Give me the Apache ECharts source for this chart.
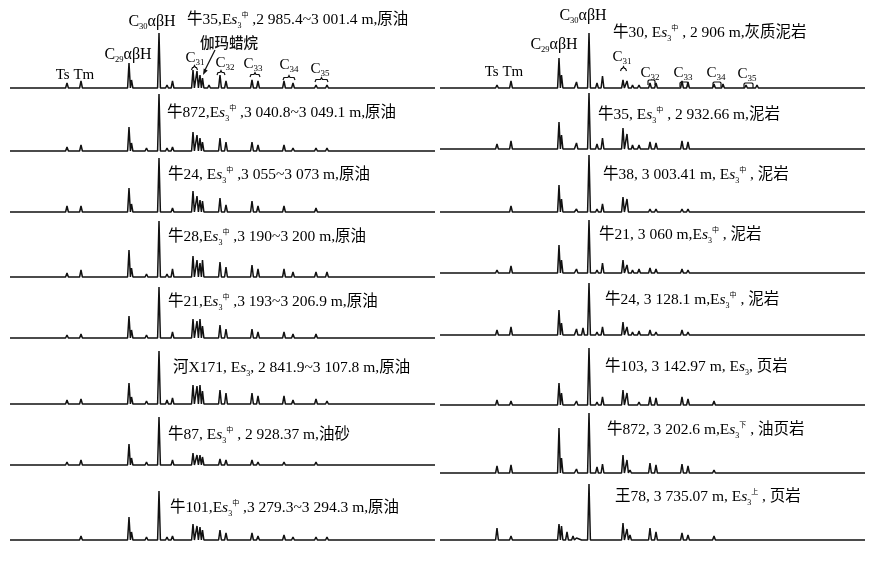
<!DOCTYPE html>
<html>
<head>
<meta charset="utf-8">
<script src="https://cdn.jsdelivr.net/npm/echarts@6/dist/echarts.min.js"></script>
<style>
    html, body { margin: 0; background: #fff; }
    #chart { width: 881px; height: 563px; }
</style>
</head>
<body>
<div id="chart"></div>
<script>
// retention positions of the peaks (same scale for every trace)
var peakNames = ['p35','Ts','Tm','p99','C29','C29b','p128','p133','p137','p143','C30','p157','p163',
    'C31S','C31R','Ga1','Ga2','p200','C32S','C32R','p230','C33S','C33R','p262','C34S','C34R','p295',
    'C35S','C35R','p345','p375'];
var peakPos = [35, 57, 71, 99, 119, 121.5, 127, 133, 136.5, 143, 149, 157, 162.5,
    183, 187, 190, 192.5, 199, 210, 216, 230, 242, 248, 262, 274, 283, 295, 306, 317, 345, 375];

// left column: crude oils / oil sand
var n35Oil   = [2,5,7,1,25,8,2,0,2,0,55,3,7,18,17,13,10,3,13,7,1,8,7,1,7,5,1,3,3,1,1];
var n872Oil  = [1,4,6,1,24,8,2,0,3,0,57,3,4,19,16,13,9,2,13,9,1,9,6,1,6,3,1,3,3,1,1];
var n24Oil   = [1,6,6,1,24,8,2,0,2,0,54,2,4,21,16,12,11,2,14,7,1,11,6,1,6,2,1,4,2,1,1];
var n28Oil   = [1,4,7,1,27,9,2,0,3,0,56,3,8,21,17,14,17,2,15,10,1,12,8,1,8,5,1,5,5,1,1];
var n21Oil   = [1,3,4,1,22,8,2,0,3,0,51,2,6,19,17,19,12,2,13,9,1,9,6,1,6,4,1,4,2,1,1];
var hx171Oil = [2,4,5,1,21,7,2,0,3,0,53,4,6,19,18,19,13,2,14,11,1,11,8,1,8,4,1,5,3,1,1];
var n87Sand  = [1,3,5,1,21,7,2,0,3,0,48,2,5,12,10,10,8,2,6,5,1,5,3,1,3,2,1,3,2,1,1];
var n101Oil  = [1,2,4,1,23,8,2,0,3,0,49,3,4,16,14,13,10,2,10,7,1,7,4,1,5,3,1,3,3,1,1];

// right column: source rocks
var n30Rock  = [1,3,7,1,30,13,2,1,6,1,55,5,12,8,7,2,3,3,5,5,2,7,6,1,4,4,1,3,3,1,1];
var n35Rock  = [1,5,8,1,27,14,2,1,6,2,56,5,11,21,15,2,4,4,7,6,2,8,7,1,2,2,1,1,1,1,1];
var n38Rock  = [1,2,6,1,27,13,2,1,3,1,57,3,8,15,13,2,2,2,3,3,1,3,3,1,2,1,1,1,1,1,1];
var n21Rock  = [1,3,7,1,28,13,2,1,4,1,53,3,10,13,8,2,3,4,5,4,1,4,3,1,2,1,1,1,1,1,1];
var n24Rock  = [1,5,8,1,25,12,2,1,6,7,52,3,8,13,8,2,3,4,5,3,1,5,3,1,2,2,1,1,1,1,1];
var n103Rock = [1,5,4,1,22,12,2,1,4,1,57,3,8,15,12,2,2,3,8,7,1,8,6,1,4,2,1,2,1,1,1];
var n872Rock = [2,7,8,2,45,15,2,1,4,1,60,6,9,18,13,3,2,2,10,8,1,9,7,1,3,2,1,2,1,1,1];
var w78Rock  = [1,12,4,2,16,14,8,4,2,1,56,2,2,17,11,5,2,2,12,8,1,7,5,1,4,2,1,2,1,1,1];

var leftTraces = [n35Oil, n872Oil, n24Oil, n28Oil, n21Oil, hx171Oil, n87Sand, n101Oil];
var rightTraces = [n30Rock, n35Rock, n38Rock, n21Rock, n24Rock, n103Rock, n872Rock, w78Rock];

// sample labels: [before "s", superscript, after]
var leftLabels = [
    ['牛35,E', '中', ' ,2 985.4~3 001.4 m,原油'],
    ['牛872,E', '中', ' ,3 040.8~3 049.1 m,原油'],
    ['牛24, E', '中', ' ,3 055~3 073 m,原油'],
    ['牛28,E', '中', ' ,3 190~3 200 m,原油'],
    ['牛21,E', '中', ' ,3 193~3 206.9 m,原油'],
    ['河X171, E', '', ', 2 841.9~3 107.8 m,原油'],
    ['牛87, E', '中', ' , 2 928.37 m,油砂'],
    ['牛101,E', '中', ' ,3 279.3~3 294.3 m,原油']
];
var rightLabels = [
    ['牛30, E', '中', ' , 2 906 m,灰质泥岩'],
    ['牛35, E', '中', ' , 2 932.66 m,泥岩'],
    ['牛38, 3 003.41 m, E', '中', ' , 泥岩'],
    ['牛21, 3 060 m,E', '中', ' , 泥岩'],
    ['牛24, 3 128.1 m,E', '中', ' , 泥岩'],
    ['牛103, 3 142.97 m, E', '', ', 页岩'],
    ['牛872, 3 202.6 m,E', '下', ' , 油页岩'],
    ['王78, 3 735.07 m, E', '上', ' , 页岩']
];

// layout
var FONT = "'Liberation Serif', 'Noto Sans CJK SC', serif";
var INK = '#111';
var W = 425;
var H = 62;
var leftX = 10, rightX = 440;
var leftBase = [88, 151, 212, 277, 338, 404, 465, 540];
var rightBase = [88, 149, 212, 273, 335, 405, 473, 540];
var leftLabelPos = [[187, 20], [167, 113], [168, 175], [168, 237], [168, 302], [173, 368], [168, 435], [170, 508]];
var rightLabelPos = [[613, 33], [598, 115], [603, 175], [599, 235], [605, 300], [605, 367], [607, 430], [615, 497]];

function traceData(h) {
    var pts = [[0, 0]];
    peakPos.forEach(function (p, i) {
        if (h[i] > 0) {
            pts.push([p - 1.4, 0], [p, h[i]], [p + 1.4, 0]);
        }
    });
    pts.push([W, 0]);
    return pts;
}

var grids = [], xAxes = [], yAxes = [], series = [];
function addTrace(x, base, h) {
    var i = grids.length;
    grids.push({ left: x, top: base - H, width: W, height: H });
    xAxes.push({ gridIndex: i, type: 'value', min: 0, max: W, show: false });
    yAxes.push({ gridIndex: i, type: 'value', min: 0, max: H, show: false });
    series.push({
        type: 'line', xAxisIndex: i, yAxisIndex: i, data: traceData(h),
        symbol: 'none', clip: false, silent: true,
        lineStyle: { color: INK, width: 1.5 }
    });
}
leftTraces.forEach(function (h, i) { addTrace(leftX, leftBase[i], h); });
rightTraces.forEach(function (h, i) { addTrace(rightX, rightBase[i], h); });

var rich = {
    a: { fontFamily: FONT, fontSize: 15.5, color: INK, lineHeight: 19 },
    i: { fontFamily: FONT, fontSize: 15.5, fontStyle: 'italic', color: INK, lineHeight: 19 },
    d: { fontFamily: FONT, fontSize: 8, color: INK, verticalAlign: 'bottom', lineHeight: 13 },
    u: { fontFamily: "'Noto Sans CJK SC'", fontSize: 7, color: INK, verticalAlign: 'top', lineHeight: 11 },
    c: { fontFamily: FONT, fontSize: 16, color: INK, lineHeight: 19 },
    n: { fontFamily: FONT, fontSize: 8.5, color: INK, lineHeight: 16, verticalAlign: 'bottom' },
    k: { fontFamily: FONT, fontSize: 15, color: INK, lineHeight: 18 },
    m: { fontFamily: FONT, fontSize: 9, color: INK, lineHeight: 16, verticalAlign: 'bottom' }
};

function label(x, y, parts, align) {
    var t = '{a|' + parts[0] + '}{i|s}{d|3}' + (parts[1] ? '{u|' + parts[1] + '}' : '') + '{a|' + parts[2] + '}';
    return {
        type: 'text', x: x, y: y, silent: true,
        style: { text: t, rich: rich, align: align || 'left', verticalAlign: 'middle' }
    };
}
function richText(x, y, t) {
    return {
        type: 'text', x: x, y: y, silent: true,
        style: { text: t, rich: rich, align: 'center', verticalAlign: 'middle' }
    };
}
function curly(xc, y, w) {
    var x0 = xc - w / 2, x1 = xc + w / 2;
    return {
        type: 'polyline', silent: true,
        shape: { points: [[x0, y + 3], [x0 + 1, y + 0.5], [xc - 1, y + 0.5], [xc, y - 1.5], [xc + 1, y + 0.5], [x1 - 1, y + 0.5], [x1, y + 3]] },
        style: { stroke: INK, fill: null, lineWidth: 1.2 }
    };
}
function box(xc, y, w) {
    var x0 = xc - w / 2, x1 = xc + w / 2;
    return {
        type: 'polyline', silent: true,
        shape: { points: [[x0, y + 5], [x0, y + 1], [x0 + 1, y], [x1 - 1, y], [x1, y + 1], [x1, y + 5]] },
        style: { stroke: INK, fill: null, lineWidth: 1.2 }
    };
}

var graphic = [];
leftLabels.forEach(function (p, i) { graphic.push(label(leftLabelPos[i][0], leftLabelPos[i][1], p)); });
rightLabels.forEach(function (p, i) { graphic.push(label(rightLabelPos[i][0], rightLabelPos[i][1], p)); });

// compound annotations, top-left trace
graphic.push(richText(152, 22, '{c|C}{n|30}{c|αβH}'));
graphic.push(richText(128, 55, '{c|C}{n|29}{c|αβH}'));
graphic.push(richText(75, 75, '{k|Ts Tm}'));
graphic.push({
    type: 'text', x: 229, y: 42, silent: true,
    style: { text: '伽玛蜡烷', fontFamily: "'Noto Sans CJK SC'", fontSize: 14.5, fontWeight: 500, fill: INK, align: 'center', verticalAlign: 'middle' }
});
graphic.push({ type: 'line', silent: true, shape: { x1: 215, y1: 50, x2: 204.5, y2: 71 }, style: { stroke: INK, lineWidth: 1.2 } });
graphic.push({ type: 'polygon', silent: true, shape: { points: [[203, 75], [207.7, 70.6], [203.7, 68.6]] }, style: { fill: INK } });
var leftC = [['31', 195, 58, 194.5, 67, 6], ['32', 225, 63, 221, 72, 8], ['33', 253, 64, 255, 74, 10], ['34', 289, 65, 289, 77, 12], ['35', 320, 69, 321.5, 79, 13]];
leftC.forEach(function (c) {
    graphic.push(richText(c[1], c[2], '{k|C}{m|' + c[0] + '}'));
    graphic.push(curly(c[3], c[4], c[5]));
});

// compound annotations, top-right trace
graphic.push(richText(583, 16, '{c|C}{n|30}{c|αβH}'));
graphic.push(richText(554, 45, '{c|C}{n|29}{c|αβH}'));
graphic.push(richText(504, 72, '{k|Ts Tm}'));
graphic.push(richText(622, 57, '{k|C}{m|31}'));
graphic.push(curly(623.5, 68, 6));
var rightC = [['32', 650, 73, 651.5, 80, 7], ['33', 683, 73, 684, 82, 8], ['34', 716, 73, 717, 82, 8], ['35', 747, 74, 748.5, 83, 9]];
rightC.forEach(function (c) {
    graphic.push(richText(c[1], c[2], '{k|C}{m|' + c[0] + '}'));
    graphic.push(box(c[3], c[4], c[5]));
});

var chart = echarts.init(document.getElementById('chart'));
chart.setOption({
    animation: false,
    backgroundColor: '#fff',
    grid: grids,
    xAxis: xAxes,
    yAxis: yAxes,
    series: series,
    graphic: graphic
});
</script>
</body>
</html>
